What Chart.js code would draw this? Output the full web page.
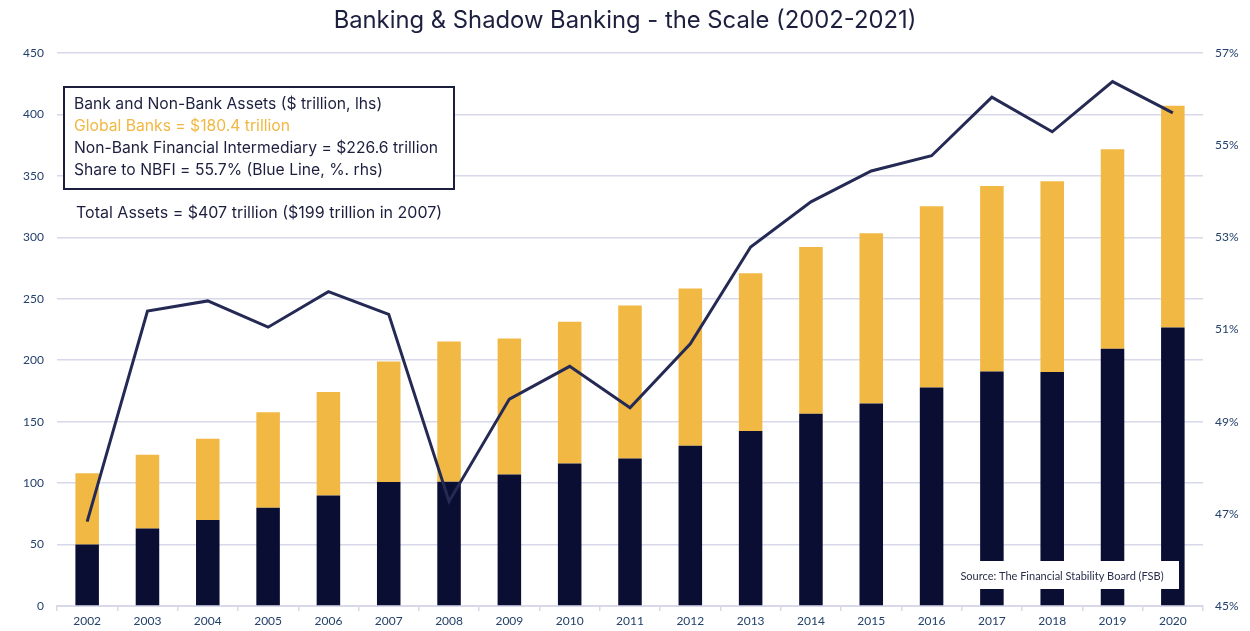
<!DOCTYPE html>
<html>
<head>
<meta charset="utf-8">
<title>Banking &amp; Shadow Banking</title>
<script src="https://cdn.jsdelivr.net/npm/chart.js@4.4.0/dist/chart.umd.min.js"></script>
<style>
    html, body { margin: 0; padding: 0; background: #ffffff; }
    #wrap { width: 1250px; height: 631px; position: relative; }
</style>
</head>
<body>
<div id="wrap"><canvas id="scaleChart"></canvas></div>
<script>
// Bank and non-bank assets, $ trillion (lhs) and NBFI share, % (rhs)
var years = ["2002", "2003", "2004", "2005", "2006", "2007", "2008", "2009", "2010", "2011",
             "2012", "2013", "2014", "2015", "2016", "2017", "2018", "2019", "2020"];
var nonBankAssets = [50, 63, 70, 80, 90, 101, 101.1, 107, 116, 120.1,
                     130.4, 142.4, 156.5, 164.7, 177.7, 190.8, 190.5, 209.3, 226.6];
var bankAssets = [58, 60, 66, 77.6, 84.2, 98, 114.1, 110.7, 115.3, 124.5,
                  128, 128.3, 135.6, 138.6, 147.6, 151, 155.1, 162.4, 180.4];
var nbfiShare = [46.83, 51.40, 51.62, 51.05, 51.82, 51.33, 47.27, 49.49, 50.20, 49.30,
                 50.69, 52.79, 53.77, 54.44, 54.77, 56.04, 55.29, 56.38, 55.7];

var boxLines = [
    "Bank and Non-Bank Assets ($ trillion, lhs)",
    "Global Banks = $180.4 trillion",
    "Non-Bank Financial Intermediary = $226.6 trillion",
    "Share to NBFI = 55.7% (Blue Line, %. rhs)"
];
var totalNote = "Total Assets = $407 trillion ($199 trillion in 2007)";
var sourceNote = "Source: The Financial Stability Board (FSB)";

var NAVY = "#0b0e33";
var GOLD = "#f1b843";
var LINE = "#252a55";
var TEXT = "#1c1f3e";
var TICK = "#23416b";
var GRID = "#d8d8ea";
var FONT = "Lato, 'Noto Sans', sans-serif";
var NOTE_FONT = "Inter, 'Noto Sans', sans-serif";

// text box, total note and source label drawn on top of the bars
var notesPlugin = {
    id: "notes",
    afterDatasetsDraw: function (chart) {
        var ctx = chart.ctx;
        ctx.save();

        ctx.fillStyle = "#ffffff";
        ctx.fillRect(64, 87, 390, 102);
        ctx.lineWidth = 2;
        ctx.strokeStyle = "#1b1e3c";
        ctx.strokeRect(64, 87, 390, 102);

        ctx.font = "15.7px " + NOTE_FONT;
        ctx.textBaseline = "middle";
        ctx.textAlign = "left";
        boxLines.forEach(function (line, i) {
            ctx.fillStyle = i === 1 ? GOLD : TEXT;
            ctx.fillText(line, 74, 104 + i * 22);
        });
        ctx.font = "16px " + NOTE_FONT;
        ctx.fillStyle = TEXT;
        ctx.fillText(totalNote, 76, 213);

        ctx.fillStyle = "#ffffff";
        ctx.fillRect(946, 561, 233, 28);
        ctx.font = "11px " + FONT;
        ctx.fillStyle = "#2a2d4a";
        ctx.textAlign = "center";
        ctx.fillText(sourceNote, 1062, 576);

        ctx.restore();
    }
};

var ctx = document.getElementById("scaleChart").getContext("2d");
new Chart(ctx, {
    type: "bar",
    data: {
        labels: years,
        datasets: [{
            type: "line",
            label: "Share to NBFI",
            data: nbfiShare,
            yAxisID: "y1",
            borderColor: LINE,
            borderWidth: 3,
            pointRadius: 0,
            tension: 0,
            fill: false,
            order: 0
        }, {
            label: "Non-Bank Financial Intermediary",
            data: nonBankAssets,
            yAxisID: "y",
            backgroundColor: NAVY,
            stack: "assets",
            order: 1
        }, {
            label: "Global Banks",
            data: bankAssets,
            yAxisID: "y",
            backgroundColor: GOLD,
            stack: "assets",
            order: 2
        }]
    },
    options: {
        responsive: true,
        maintainAspectRatio: false,
        animation: false,
        barPercentage: 0.39,
        categoryPercentage: 1,
        layout: { padding: 0 },
        plugins: {
            legend: { display: false },
            tooltip: { enabled: false },
            title: {
                display: true,
                text: "Banking & Shadow Banking - the Scale (2002-2021)",
                color: TEXT,
                font: { family: NOTE_FONT, size: 23.8, weight: "normal", lineHeight: 1.1 },
                padding: { top: 8, bottom: 18.8 }
            }
        },
        scales: {
            x: {
                stacked: true,
                offset: true,
                grid: {
                    offset: true,
                    drawOnChartArea: false,
                    drawTicks: true,
                    tickLength: 5,
                    color: GRID,
                    lineWidth: 1.5
                },
                border: { color: GRID, width: 2 },
                ticks: {
                    color: TICK,
                    padding: 3,
                    maxRotation: 0,
                    font: { family: FONT, size: 12 }
                },
                afterFit: function (scale) { scale.height = 25; }
            },
            y: {
                position: "left",
                stacked: true,
                min: 0,
                max: 450,
                grid: { color: GRID, lineWidth: 1.5, drawTicks: false },
                border: { display: false },
                ticks: {
                    stepSize: 50,
                    color: TICK,
                    padding: 13,
                    font: { family: FONT, size: 12 }
                },
                afterFit: function (scale) { scale.width = 57; }
            },
            y1: {
                position: "right",
                min: 45,
                max: 57,
                grid: { drawOnChartArea: false, drawTicks: false },
                border: { display: false },
                ticks: {
                    stepSize: 2,
                    color: TICK,
                    padding: 12,
                    font: { family: FONT, size: 12 },
                    callback: function (value) { return value + "%"; }
                },
                afterFit: function (scale) { scale.width = 47; }
            }
        }
    },
    plugins: [notesPlugin]
});
</script>
</body>
</html>
